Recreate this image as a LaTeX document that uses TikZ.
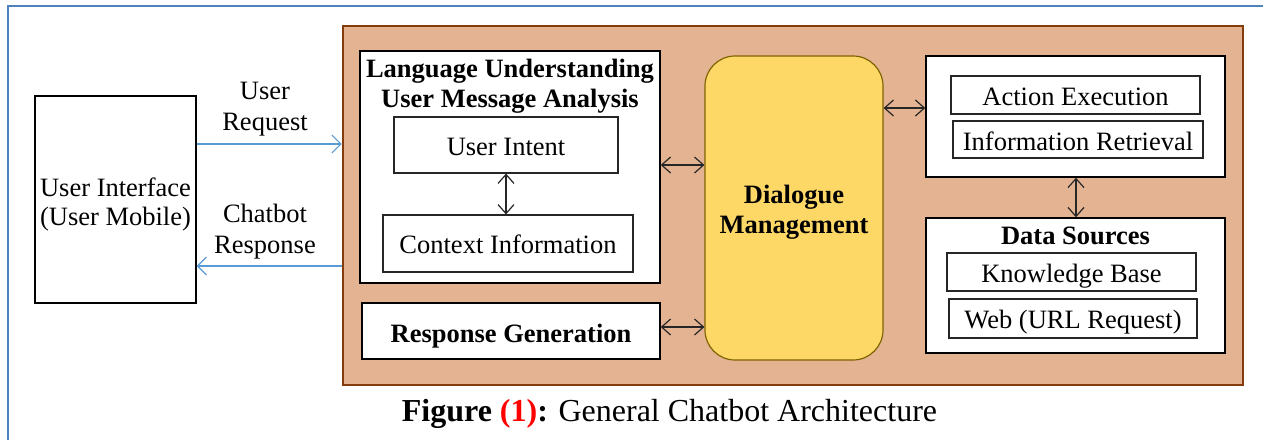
\documentclass[tikz,border=0pt]{standalone}
\usepackage{fontspec}
\setmainfont{Liberation Serif}
\usetikzlibrary{arrows.meta}
\definecolor{frameblue}{RGB}{79,129,189}
\definecolor{arrblue}{RGB}{91,155,213}
\definecolor{panelfill}{RGB}{228,179,146}
\definecolor{paneldraw}{RGB}{132,60,12}
\definecolor{dmfill}{RGB}{253,216,102}
\definecolor{dmdraw}{RGB}{128,100,0}
\tikzset{
  txt/.style={font=\fontsize{26.5}{30}\selectfont, inner sep=0pt, anchor=base},
  btxt/.style={font=\fontsize{26.5}{30}\selectfont\bfseries, inner sep=0pt, anchor=base},
  bigbox/.style={draw=black, line width=1.4pt, fill=white, inner sep=0pt},
  smallbox/.style={draw=black!85, line width=1.1pt, fill=white, inner sep=0pt, font=\fontsize{26.5}{30}\selectfont, text height=20pt, text depth=0pt},
  dbl/.style={{Straight Barb[length=9pt,width=16pt]}-{Straight Barb[length=9pt,width=16pt]}, line width=1.2pt, black!85},
  bluearr/.style={-{Straight Barb[length=9pt,width=18pt]}, line width=1.1pt, arrblue},
}
\begin{document}
\begin{tikzpicture}[x=1pt,y=-1pt]
\useasboundingbox (0,0) rectangle (1263,440);
% outer blue frame
\draw[frameblue, line width=2.5pt] (8,440) -- (8,6) -- (1263,6);
% brown panel
\node[draw=paneldraw, fill=panelfill, line width=2.6pt, minimum width=900pt, minimum height=359pt, inner sep=0pt] (panel) at (793,205.5) {};
% user interface
\node[bigbox, minimum width=161pt, minimum height=207pt] (ui) at (115.5,199.5) {};
\node[txt] (uitext1) at (115.5,196) {User Interface};
\node[txt] (uitext2) at (115.5,225.5) {(User Mobile)};
% language understanding
\node[bigbox, minimum width=300pt, minimum height=232pt] (lang) at (510,167) {};
\node[btxt] (langtitle1) at (510,77.5) {Language Understanding};
\node[btxt] (langtitle2) at (510,107) {User Message Analysis};
\node[smallbox, minimum width=224pt, minimum height=56pt] (intent) at (506,145) {User Intent};
\node[smallbox, minimum width=250pt, minimum height=57pt] (context) at (508,243.5) {Context Information};
% response generation
\node[bigbox, minimum width=298pt, minimum height=56pt, font=\fontsize{26.5}{30}\selectfont\bfseries, text height=22pt, text depth=0pt] (resp) at (511,331) {Response Generation};
% dialogue management
\node[draw=dmdraw, fill=dmfill, line width=1.2pt, rounded corners=30pt, minimum width=178pt, minimum height=304pt, inner sep=0pt] (dm) at (794,208) {};
\node[btxt] (dmtext1) at (794,203) {Dialogue};
\node[btxt] (dmtext2) at (794,233) {Management};
% right top box
\node[bigbox, minimum width=299pt, minimum height=121pt] (exec) at (1075.5,116.5) {};
\node[smallbox, minimum width=249pt, minimum height=38pt] (action) at (1075.5,95) {Action Execution};
\node[smallbox, minimum width=250pt, minimum height=37pt, text height=21pt] (retr) at (1078,139.5) {Information Retrieval};
% data sources
\node[bigbox, minimum width=299pt, minimum height=135pt] (data) at (1075.5,285.5) {};
\node[btxt] (datatitle) at (1075.5,244.5) {Data Sources};
\node[smallbox, minimum width=249pt, minimum height=38pt] (kb) at (1071.5,272) {Knowledge Base};
\node[smallbox, minimum width=248pt, minimum height=39pt] (web) at (1073,318.5) {Web (URL Request)};
% connectors
\draw[dbl] (intent.south) -- (intent.south |- context.north);
\draw[dbl] (lang.east |- 0,165) -- (dm.west |- 0,165);
\draw[dbl] (resp.east |- 0,327) -- (dm.west |- 0,327);
\draw[dbl] (dm.east |- 0,108) -- (exec.west |- 0,108);
\draw[dbl] (exec.south -| 1076,0) -- (data.north -| 1076,0);
\draw[bluearr] (ui.east |- 0,144) -- (panel.west |- 0,144);
\draw[bluearr] (panel.west |- 0,266) -- (ui.east |- 0,266);
\node[txt] (reqlabel1) at (265,99) {User};
\node[txt] (reqlabel2) at (265,130) {Request};
\node[txt] (resplabel1) at (265,222) {Chatbot};
\node[txt] (resplabel2) at (265,253) {Response};
% caption
\node[inner sep=0pt, anchor=base, font=\fontsize{32}{36}\selectfont] (caption) at (669.5,421) {\textbf{Figure \textcolor{red}{(1)}:} General Chatbot Architecture};
\end{tikzpicture}
\end{document}
